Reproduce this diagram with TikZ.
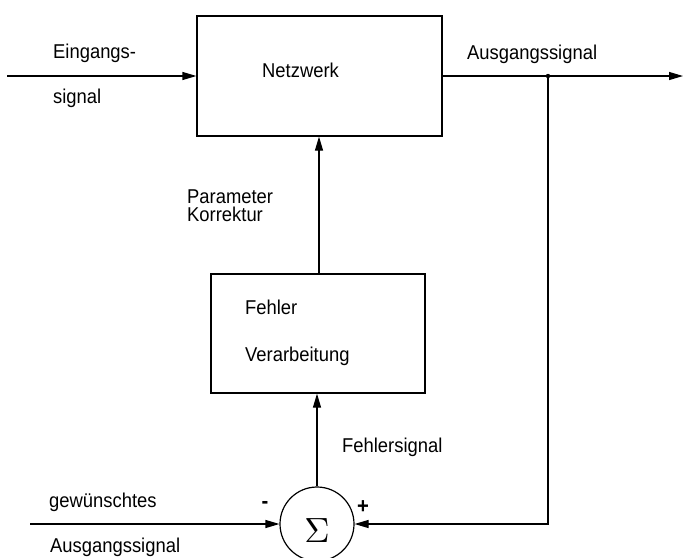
\documentclass[tikz,border=0pt]{standalone}
\usepackage{fontspec}
\setmainfont[FakeStretch=0.92]{Liberation Sans}
\usetikzlibrary{arrows.meta}
\begin{document}
\begin{tikzpicture}[x=1pt,y=-1pt,
		block/.style={draw,line width=1.2pt,inner sep=0pt},
		sig/.style={line width=1.2pt,-{Triangle[length=14pt,width=8pt]}},
		txt/.style={anchor=base west,inner sep=0pt,font=\fontsize{20}{18}\selectfont}]
			\useasboundingbox (0,0) rectangle (684,557);
			% Bloecke
			\node[block,minimum width=245pt,minimum height=120pt] (netz) at (319.5,76) {};
			\node[block,minimum width=214pt,minimum height=119pt] (fehl) at (318,333.5) {};
			\node[block,circle,minimum size=74pt] (sum) at (317,524) {};
			\node[inner sep=0pt] (tsig) at (317,531) {\scalebox{3.5}{$\Sigma$}};
			\coordinate (in) at (7,76);
			\coordinate (out) at (683,76);
			\coordinate (junc) at (548,76);
			\coordinate (des) at (30,524);
			% Signale
			\draw[sig] (in) -- (netz.west);
			\draw[sig] (netz.east) -- (out);
			\fill (junc) circle (2.2pt);
			\draw[sig] (junc) |- (sum.east);
			\draw[sig] (des) -- (sum.west);
			\draw[sig] (sum.north) -- (fehl.south -| sum.north);
			\draw[sig] (fehl.north -| 319,0) -- (netz.south -| 319,0);
			% Texte
			\node[txt] (tin1) at (53,58) {Eingangs-};
			\node[txt] (tin2) at (53,103) {signal};
			\node[txt] (tnetz) at (262,77) {Netzwerk};
			\node[txt] (tout) at (467,59) {Ausgangssignal};
			\node[txt,anchor=north west,align=left] (tpar) at (187,189.5) {Parameter\\Korrektur};
			\node[txt] (tfehl1) at (245,314) {Fehler};
			\node[txt] (tfehl2) at (245,361) {Verarbeitung};
			\node[txt] (tfsig) at (342,452) {Fehlersignal};
			\node[txt] (tdes1) at (49,507) {gewünschtes};
			\node[txt] (tdes2) at (50,552) {Ausgangssignal};
			\node[font=\fontsize{22}{22}\selectfont\bfseries] (tminus) at (265,505) {-};
			\node[font=\fontsize{22}{22}\selectfont\bfseries] (tplus) at (363,507) {+};
		\end{tikzpicture}
\end{document}
